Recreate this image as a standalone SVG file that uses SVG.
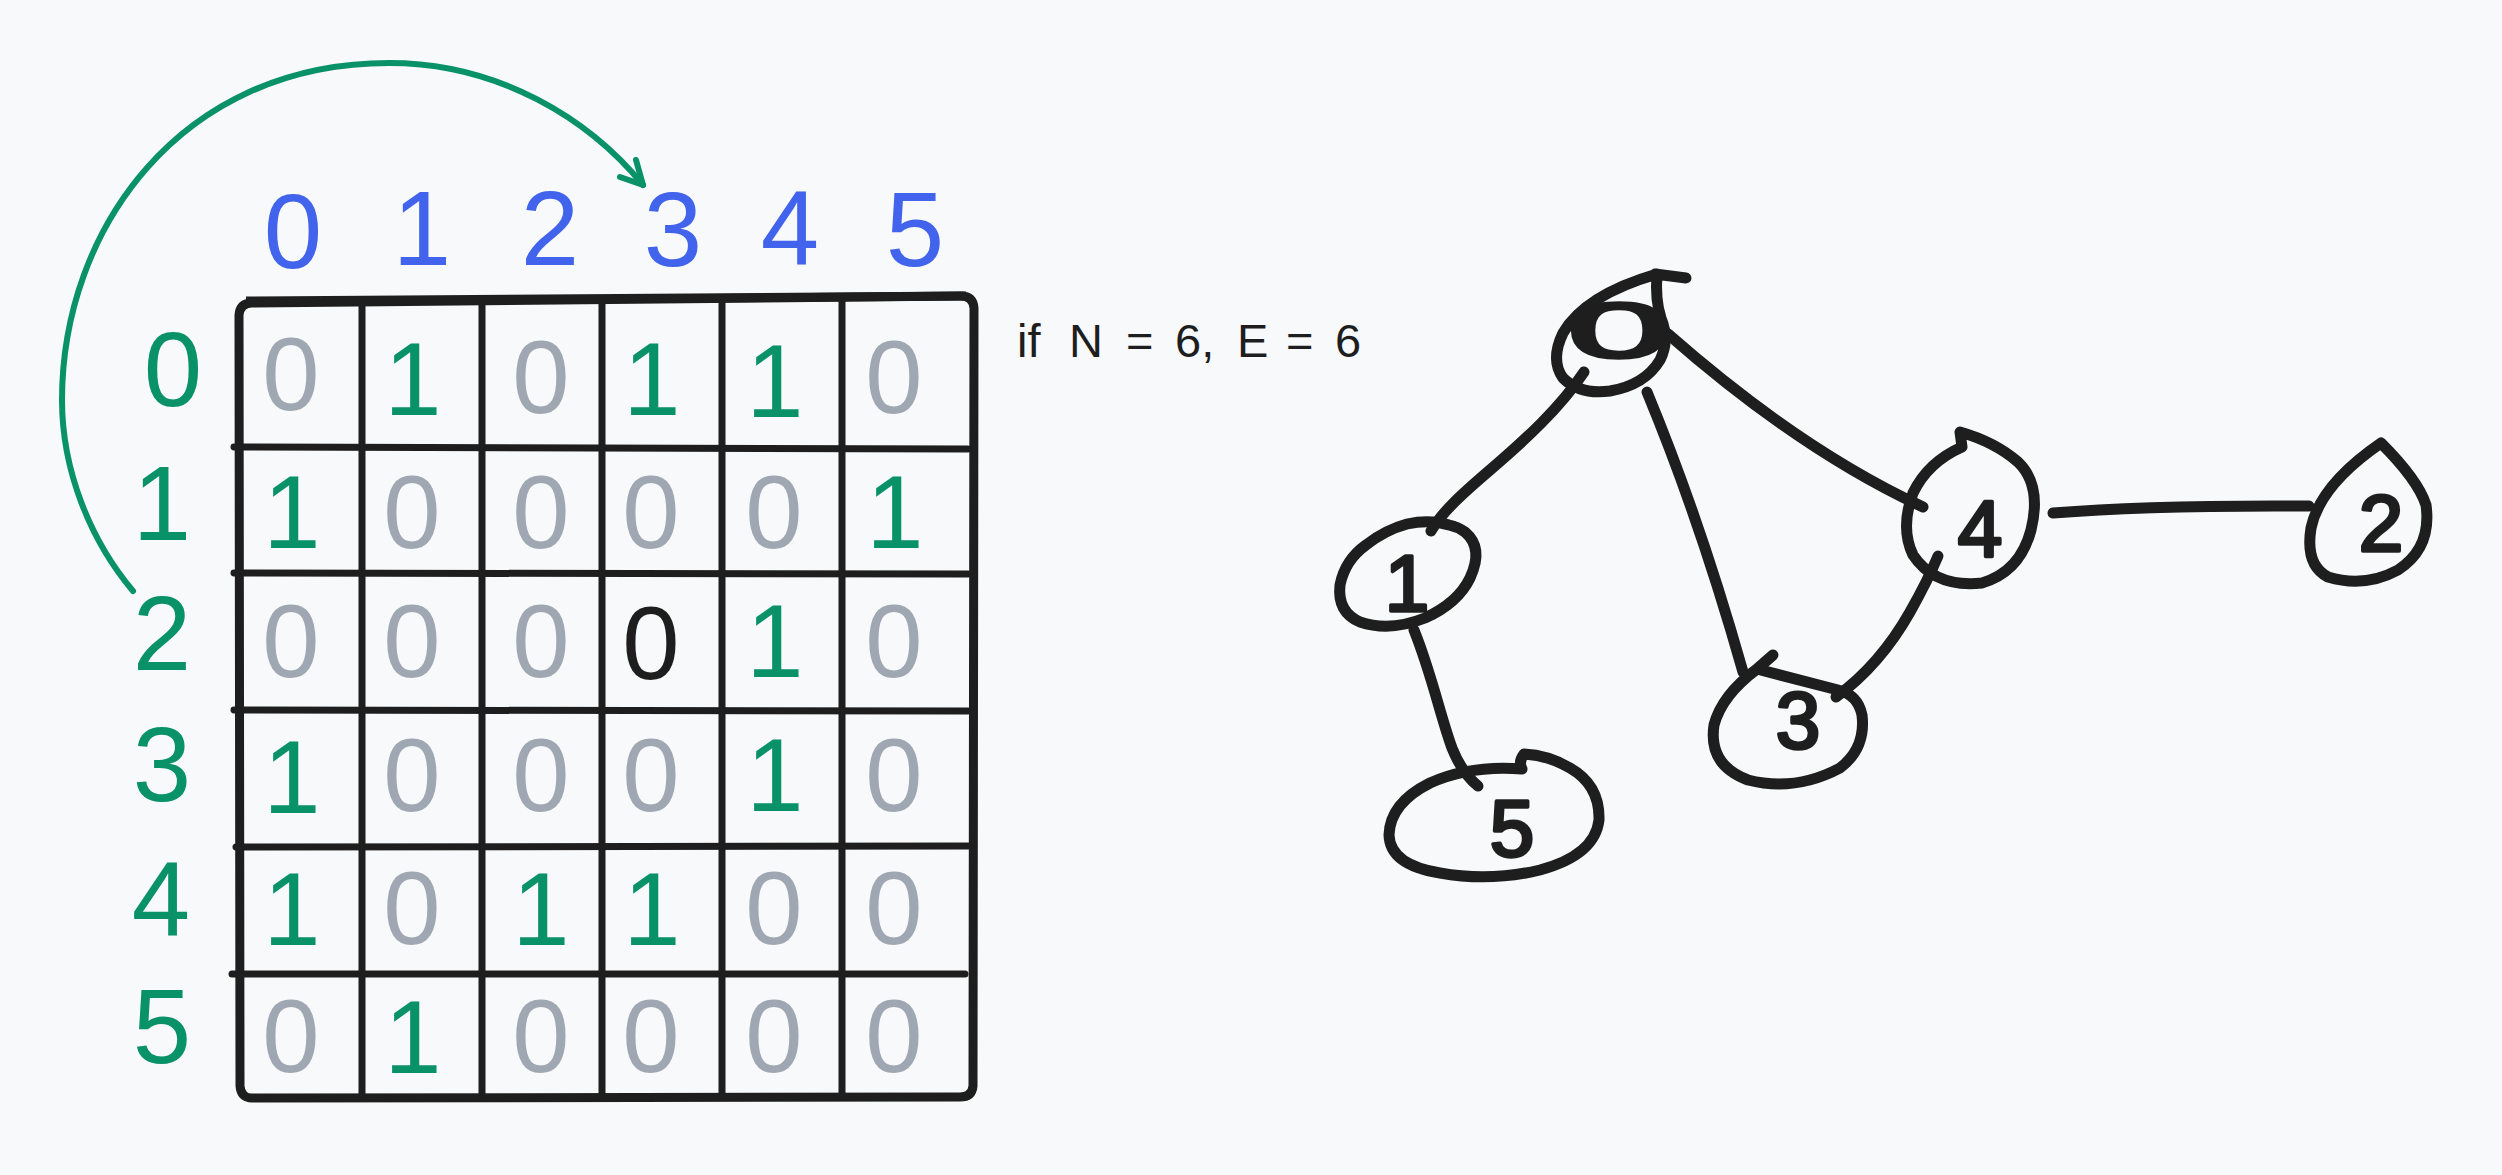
<svg xmlns="http://www.w3.org/2000/svg" width="2502" height="1175" viewBox="0 0 2502 1175">
<style>
  text { font-family: "Liberation Sans", Arial, sans-serif; }
  .hdr { fill: #4263eb; font-size: 105px; text-anchor: middle; }
  .row { fill: #099268; font-size: 105px; text-anchor: middle; }
  .z { fill: #9fa7b2; font-size: 103px; text-anchor: middle; }
  .o { fill: #099268; font-size: 103px; text-anchor: middle; }
  .k { fill: #1e1e1e; font-size: 103px; text-anchor: middle; }
  .border { fill: none; stroke: #1e1e1e; stroke-width: 9; stroke-linejoin: round; }
  .grid { fill: none; stroke: #1e1e1e; stroke-width: 7; stroke-linecap: round; }
  .pen { fill: none; stroke: #1e1e1e; stroke-width: 11; stroke-linecap: round; stroke-linejoin: round; }
  .hand { fill: #1e1e1e; stroke: #1e1e1e; stroke-width: 3.5; stroke-linejoin: round; font-size: 80px; text-anchor: middle; }
  .arc { fill: none; stroke: #099268; stroke-width: 6; stroke-linecap: round; stroke-linejoin: round; }
  .note { fill: #1e1e1e; font-size: 47px; }
</style>
<rect width="2502" height="1175" fill="#f8f9fa"/>

<g id="column-labels">
  <text class="hdr" x="293" y="268">0</text>
  <text class="hdr" x="422" y="265">1</text>
  <text class="hdr" x="550" y="265">2</text>
  <text class="hdr" x="673" y="266">3</text>
  <text class="hdr" x="790" y="265">4</text>
  <text class="hdr" x="915" y="266">5</text>
</g>

<g id="row-labels">
  <text class="row" x="173" y="406">0</text>
  <text class="row" x="162" y="540">1</text>
  <text class="row" x="162" y="670">2</text>
  <text class="row" x="162" y="801">3</text>
  <text class="row" x="161" y="936">4</text>
  <text class="row" x="162" y="1063">5</text>
</g>

<g id="matrix">
  <path class="border" d="M252,303 L961,296 Q973,296 974,308 L973,1086 Q972,1097 960,1097 L252,1098 Q241,1098 240,1086 L239,315 Q240,303 252,303 Z"/>
  <path class="border" d="M246,301 L966,296" stroke-width="11"/>
  <path class="grid" d="M362,300 V1096 M482,300 V1096 M602,300 V1096 M722,300 V1096 M842,300 V1096"/>
  <path class="grid" d="M234,447 L968,449 M234,573 L968,574 M234,710 L968,711 M236,847 L968,846 M232,974 L965,974"/>

  <text class="z" x="291" y="410">0</text>
  <text class="o" x="413" y="415">1</text>
  <text class="z" x="541" y="413">0</text>
  <text class="o" x="652" y="415">1</text>
  <text class="o" x="775" y="417">1</text>
  <text class="z" x="894" y="413">0</text>

  <text class="o" x="292" y="548">1</text>
  <text class="z" x="412" y="548">0</text>
  <text class="z" x="541" y="548">0</text>
  <text class="z" x="651" y="548">0</text>
  <text class="z" x="774" y="548">0</text>
  <text class="o" x="895" y="548">1</text>

  <text class="z" x="291" y="677">0</text>
  <text class="z" x="412" y="677">0</text>
  <text class="z" x="541" y="677">0</text>
  <text class="k" x="651" y="679">0</text>
  <text class="o" x="775" y="677">1</text>
  <text class="z" x="894" y="677">0</text>

  <text class="o" x="292" y="813">1</text>
  <text class="z" x="412" y="811">0</text>
  <text class="z" x="541" y="811">0</text>
  <text class="z" x="651" y="811">0</text>
  <text class="o" x="775" y="811">1</text>
  <text class="z" x="894" y="811">0</text>

  <text class="o" x="292" y="945">1</text>
  <text class="z" x="412" y="944">0</text>
  <text class="o" x="541" y="945">1</text>
  <text class="o" x="652" y="945">1</text>
  <text class="z" x="774" y="944">0</text>
  <text class="z" x="894" y="944">0</text>

  <text class="z" x="291" y="1072">0</text>
  <text class="o" x="413" y="1073">1</text>
  <text class="z" x="541" y="1072">0</text>
  <text class="z" x="651" y="1072">0</text>
  <text class="z" x="774" y="1072">0</text>
  <text class="z" x="894" y="1072">0</text>
</g>

<g id="note">
  <text class="note" y="357"><tspan x="1017">if</tspan> <tspan x="1069">N</tspan> <tspan x="1126">=</tspan> <tspan x="1175">6,</tspan> <tspan x="1237">E</tspan> <tspan x="1286">=</tspan> <tspan x="1335">6</tspan></text>
</g>

<g id="connectors">
  <path class="arc" d="M133,591 C90,540 62,470 62,400 C62,230 180,63 389,63 C500,63 590,120 643,185"/>
  <path class="arc" d="M636,160 L643,185 L620,177"/>
  <path id="edge-0-1" class="pen" d="M1584,372 C1560,408 1525,440 1490,470 C1462,494 1442,512 1431,531"/>
  <path id="edge-0-3" class="pen" d="M1647,392 Q1700,520 1743,672"/>
  <path id="edge-0-4" class="pen" d="M1668,334 Q1800,450 1923,507"/>
  <path id="edge-1-5" class="pen" d="M1414,630 C1432,675 1440,715 1452,748 C1460,768 1468,778 1478,786"/>
  <path id="edge-4-3" class="pen" d="M1938,556 Q1928,580 1910,612 Q1880,665 1836,697"/>
  <path id="edge-4-2" class="pen" d="M2053,513 Q2150,505 2309,506"/>
</g>

<g id="node-0">
  <path class="pen" d="M1657,274 Q1655,300 1661,318 Q1670,340 1660,360 Q1645,385 1610,391 Q1580,395 1563,378 Q1550,360 1563,333 Q1585,295 1657,274 Z M1655,274 L1686,278"/>
  <text class="hand" font-size="42" transform="translate(1619,357) scale(2.3,0.98)" x="0" y="0" stroke-width="1.6">0</text>
</g>

<g id="node-1">
  <path class="pen" d="M1449,525 Q1430,519 1407,524 Q1385,530 1366,545 Q1345,560 1340,585 Q1337,612 1360,622 Q1390,632 1425,618 Q1458,603 1470,578 Q1484,548 1465,532 Q1458,527 1449,525 Z"/>
  <text class="hand" x="1407" y="611">1</text>
</g>

<g id="node-5">
  <path class="pen" d="M1522,769 Q1470,765 1430,783 Q1390,803 1389,835 Q1390,865 1440,873 Q1490,882 1540,870 Q1595,855 1599,820 Q1600,785 1570,768 Q1548,755 1524,754 Q1518,762 1522,769"/>
  <text class="hand" x="1512" y="856">5</text>
</g>

<g id="node-3">
  <path class="pen" d="M1773,655 L1757,669 Q1722,695 1714,725 Q1708,765 1748,780 Q1795,792 1840,768 Q1866,748 1862,715 Q1858,695 1838,690 Q1800,680 1757,669"/>
  <text class="hand" x="1798" y="748">3</text>
</g>

<g id="node-4">
  <path class="pen" d="M1962,447 Q1928,462 1913,493 Q1900,528 1913,555 Q1935,588 1982,583 Q2020,572 2031,530 Q2042,485 2018,462 Q1995,442 1960,432 L1962,447"/>
  <text class="hand" x="1980" y="556" font-size="95">4</text>
</g>

<g id="node-2">
  <path class="pen" d="M2381,443 Q2418,480 2426,505 Q2432,548 2398,570 Q2365,588 2328,577 Q2305,565 2311,528 Q2320,485 2381,443 Z"/>
  <text class="hand" x="2381" y="551">2</text>
</g>
</svg>
